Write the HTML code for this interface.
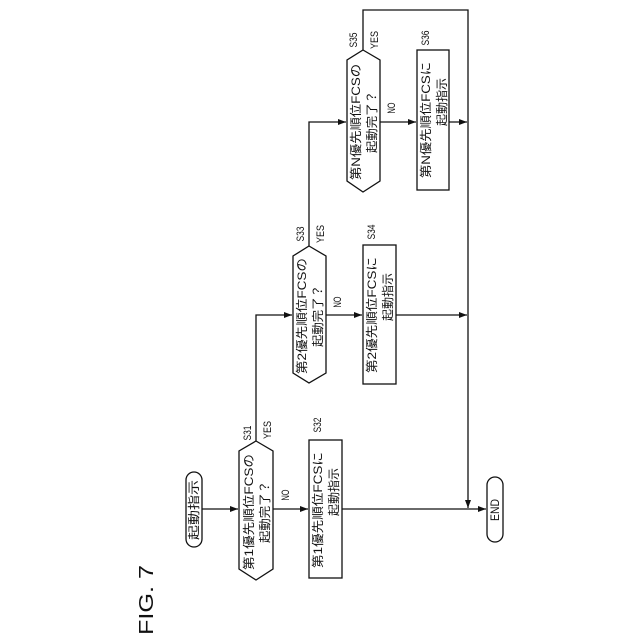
<!DOCTYPE html>
<html><head><meta charset="utf-8"><style>
html,body{margin:0;padding:0;background:#fff;}
svg{display:block;}
text{font-family:"Liberation Sans","Noto Sans CJK JP",sans-serif;fill:#111;}
</style></head><body>
<svg width="640" height="640" viewBox="0 0 640 640" xmlns="http://www.w3.org/2000/svg">
<defs><marker id="a" markerWidth="8" markerHeight="6" refX="8" refY="3" orient="auto" markerUnits="userSpaceOnUse"><path d="M0,0 L8,3 L0,6 Z" fill="#111"/></marker></defs>
<g stroke="#111" stroke-width="1.3" fill="none">
<!-- start -->
<rect x="186" y="472" width="16" height="75" rx="8"/>
<!-- S31 -->
<polygon points="256,441 273,451 273,569 256,580 239,569 239,451" fill="#fff"/>
<rect x="309" y="440" width="33" height="138" fill="#fff"/>
<!-- S33 -->
<polygon points="309,246 326,256 326,373 309,383 293,373 293,256" fill="#fff"/>
<rect x="363" y="245" width="33" height="139" fill="#fff"/>
<!-- S35 -->
<polygon points="363,50 380,60 380,181 363,192 347,181 347,60" fill="#fff"/>
<rect x="417" y="50" width="32" height="140" fill="#fff"/>
<!-- END -->
<rect x="487" y="477" width="16" height="65" rx="8"/>
<!-- connectors -->
<line x1="202" y1="509" x2="238" y2="509" marker-end="url(#a)"/>
<line x1="273" y1="509" x2="308" y2="509" marker-end="url(#a)"/>
<line x1="342" y1="509" x2="486" y2="509" marker-end="url(#a)"/>
<polyline points="256,441 256,315 292,315" marker-end="url(#a)"/>
<line x1="326" y1="315" x2="362" y2="315" marker-end="url(#a)"/>
<line x1="396" y1="315" x2="467" y2="315" marker-end="url(#a)"/>
<polyline points="309,246 309,122 346,122" marker-end="url(#a)"/>
<line x1="380" y1="122" x2="416" y2="122" marker-end="url(#a)"/>
<line x1="449" y1="122" x2="467" y2="122" marker-end="url(#a)"/>
<polyline points="363,50 363,10 468,10 468,508" marker-end="url(#a)"/>
</g>
<g font-size="12">
<text transform="translate(198,510) rotate(-90)" text-anchor="middle" textLength="60" lengthAdjust="spacingAndGlyphs">起動指示</text>
<text transform="translate(253,512) rotate(-90)" text-anchor="middle" textLength="116" lengthAdjust="spacingAndGlyphs">第1優先順位FCSの</text>
<text transform="translate(269,512) rotate(-90)" text-anchor="middle" textLength="62" lengthAdjust="spacingAndGlyphs">起動完了？</text>
<text transform="translate(322,510) rotate(-90)" text-anchor="middle" textLength="116" lengthAdjust="spacingAndGlyphs">第1優先順位FCSに</text>
<text transform="translate(338,492) rotate(-90)" text-anchor="middle" textLength="48" lengthAdjust="spacingAndGlyphs">起動指示</text>
<text transform="translate(306,316) rotate(-90)" text-anchor="middle" textLength="116" lengthAdjust="spacingAndGlyphs">第2優先順位FCSの</text>
<text transform="translate(322,316) rotate(-90)" text-anchor="middle" textLength="62" lengthAdjust="spacingAndGlyphs">起動完了？</text>
<text transform="translate(376,315) rotate(-90)" text-anchor="middle" textLength="116" lengthAdjust="spacingAndGlyphs">第2優先順位FCSに</text>
<text transform="translate(392,297) rotate(-90)" text-anchor="middle" textLength="48" lengthAdjust="spacingAndGlyphs">起動指示</text>
<text transform="translate(360,122) rotate(-90)" text-anchor="middle" textLength="116" lengthAdjust="spacingAndGlyphs">第N優先順位FCSの</text>
<text transform="translate(376,122) rotate(-90)" text-anchor="middle" textLength="62" lengthAdjust="spacingAndGlyphs">起動完了？</text>
<text transform="translate(430,120) rotate(-90)" text-anchor="middle" textLength="116" lengthAdjust="spacingAndGlyphs">第N優先順位FCSに</text>
<text transform="translate(446,102) rotate(-90)" text-anchor="middle" textLength="48" lengthAdjust="spacingAndGlyphs">起動指示</text>
<text transform="translate(499,510) rotate(-90)" text-anchor="middle" textLength="22" lengthAdjust="spacingAndGlyphs">END</text>
</g>
<g font-size="11">
<text transform="translate(251,433) rotate(-90)" text-anchor="middle" textLength="15" lengthAdjust="spacingAndGlyphs">S31</text>
<text transform="translate(271,430) rotate(-90)" text-anchor="middle" textLength="18" lengthAdjust="spacingAndGlyphs">YES</text>
<text transform="translate(289,495) rotate(-90)" text-anchor="middle" textLength="11" lengthAdjust="spacingAndGlyphs">NO</text>
<text transform="translate(321,425) rotate(-90)" text-anchor="middle" textLength="15" lengthAdjust="spacingAndGlyphs">S32</text>
<text transform="translate(304,234) rotate(-90)" text-anchor="middle" textLength="15" lengthAdjust="spacingAndGlyphs">S33</text>
<text transform="translate(324,234) rotate(-90)" text-anchor="middle" textLength="18" lengthAdjust="spacingAndGlyphs">YES</text>
<text transform="translate(341,302) rotate(-90)" text-anchor="middle" textLength="11" lengthAdjust="spacingAndGlyphs">NO</text>
<text transform="translate(375,232) rotate(-90)" text-anchor="middle" textLength="15" lengthAdjust="spacingAndGlyphs">S34</text>
<text transform="translate(357,40) rotate(-90)" text-anchor="middle" textLength="15" lengthAdjust="spacingAndGlyphs">S35</text>
<text transform="translate(378,40) rotate(-90)" text-anchor="middle" textLength="18" lengthAdjust="spacingAndGlyphs">YES</text>
<text transform="translate(395,108) rotate(-90)" text-anchor="middle" textLength="11" lengthAdjust="spacingAndGlyphs">NO</text>
<text transform="translate(429,38) rotate(-90)" text-anchor="middle" textLength="15" lengthAdjust="spacingAndGlyphs">S36</text>
</g>
<text transform="translate(153,600) rotate(-90)" text-anchor="middle" font-size="20" textLength="70" lengthAdjust="spacingAndGlyphs">FIG. 7</text>
</svg>
</body></html>
